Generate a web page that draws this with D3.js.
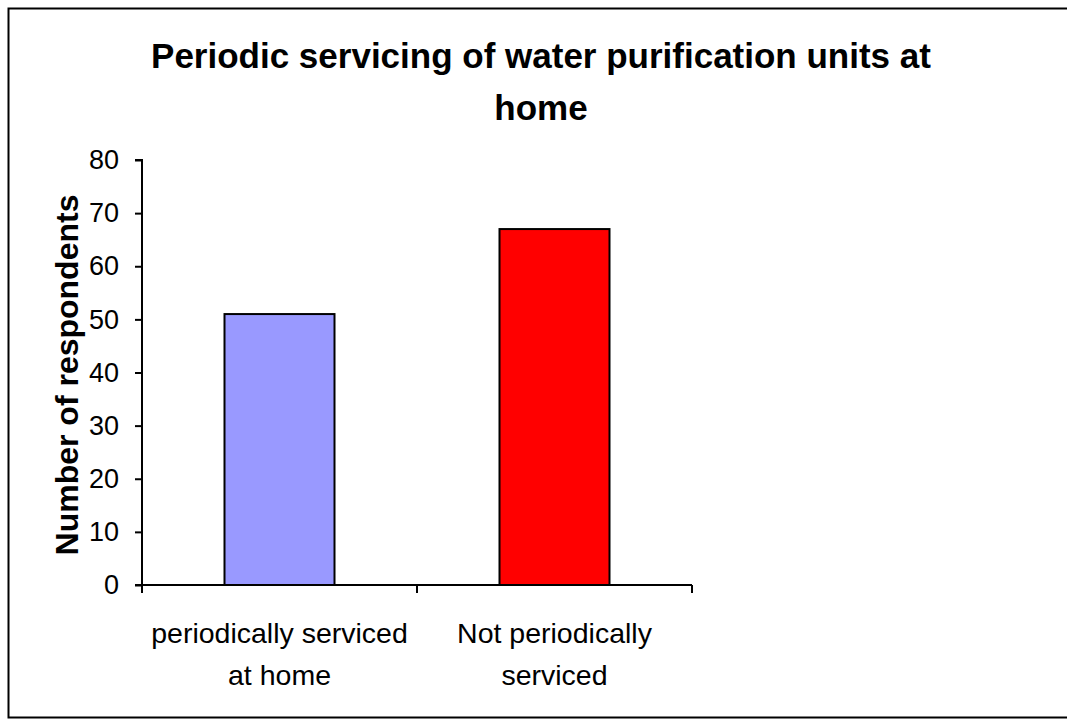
<!DOCTYPE html>
<html>
<head>
<meta charset="utf-8">
<script src="https://cdn.jsdelivr.net/npm/d3@7"></script>
<style>
  body { margin: 0; background: #fff; }
  svg { display: block; font-family: "Liberation Sans", Arial, sans-serif; }
</style>
</head>
<body>
<svg width="1067" height="725"></svg>
<script>
var categories = ["periodically serviced|at home", "Not periodically|serviced"];
var values = [51, 67];
var colors = ["#9999ff", "#ff0000"];
var yTicks = [0, 10, 20, 30, 40, 50, 60, 70, 80];

var svg = d3.select("svg");

// outer frame
svg.append("rect")
  .attr("x", 8.5).attr("y", 8.5)
  .attr("width", 1070).attr("height", 709)
  .attr("fill", "none").attr("stroke", "#000").attr("stroke-width", 2);

var plotLeft = 142, plotRight = 692, plotTop = 160, plotBottom = 585;

var x = d3.scaleBand()
  .domain(categories)
  .range([plotLeft, plotRight])
  .paddingInner(0.6)
  .paddingOuter(0.3);

var y = d3.scaleLinear()
  .domain([0, 80])
  .range([plotBottom, plotTop]);

// title
var title = svg.append("text")
  .attr("text-anchor", "middle")
  .attr("font-weight", "bold")
  .attr("font-size", 35);
title.append("tspan").attr("x", 541).attr("y", 68).text("Periodic servicing of water purification units at");
title.append("tspan").attr("x", 541).attr("y", 120).text("home");

// bars
svg.selectAll("rect.bar")
  .data(values)
  .enter()
  .append("rect")
  .attr("class", "bar")
  .attr("x", function(d, i) { return x(categories[i]); })
  .attr("width", x.bandwidth())
  .attr("y", function(d) { return y(d); })
  .attr("height", function(d) { return y(0) - y(d); })
  .attr("fill", function(d, i) { return colors[i]; })
  .attr("stroke", "#000")
  .attr("stroke-width", 2);

// y axis
var yAxis = d3.axisLeft(y)
  .tickValues(yTicks)
  .tickSize(7)
  .tickPadding(16);

var gy = svg.append("g")
  .attr("transform", "translate(" + plotLeft + ",0)")
  .call(yAxis);
gy.select(".domain").attr("stroke-width", 2).attr("d", "M-7," + plotTop + "H0V" + plotBottom);
gy.selectAll(".tick line").attr("stroke-width", 2);
gy.selectAll(".tick text")
  .attr("font-size", 27)
  .attr("font-family", "'Liberation Sans', Arial, sans-serif")
  .attr("fill", "#000");

// x axis
var gx = svg.append("g")
  .attr("transform", "translate(0," + plotBottom + ")");
gx.append("line")
  .attr("x1", plotLeft - 7).attr("x2", plotRight)
  .attr("stroke", "#000").attr("stroke-width", 2);
var xTickPos = [plotLeft, (plotLeft + plotRight) / 2, plotRight];
gx.selectAll("line.xt")
  .data(xTickPos)
  .enter()
  .append("line")
  .attr("class", "xt")
  .attr("x1", function(d) { return d; })
  .attr("x2", function(d) { return d; })
  .attr("y1", 0).attr("y2", 8)
  .attr("stroke", "#000").attr("stroke-width", 2);

gx.selectAll("text.cat")
  .data(categories)
  .enter()
  .append("text")
  .attr("class", "cat")
  .attr("text-anchor", "middle")
  .attr("font-size", 28.5)
  .each(function(d) {
    var t = d3.select(this);
    var cx = x(d) + x.bandwidth() / 2;
    d.split("|").forEach(function(line, i) {
      t.append("tspan").attr("x", cx).attr("y", 58 + i * 42).text(line);
    });
  });

// y label
svg.append("text")
  .attr("transform", "translate(78,375) rotate(-90)")
  .attr("text-anchor", "middle")
  .attr("font-weight", "bold")
  .attr("font-size", 32)
  .text("Number of respondents");
</script>
</body>
</html>
